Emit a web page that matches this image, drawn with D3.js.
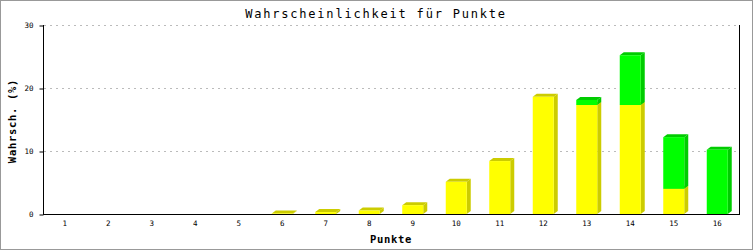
<!DOCTYPE html>
<html><head><meta charset="utf-8">
<script src="https://cdn.jsdelivr.net/npm/d3@7"></script>
<style>html,body{margin:0;padding:0;background:#fff;}svg{display:block;}</style>
</head><body>
<script>
const categories = ["1","2","3","4","5","6","7","8","9","10","11","12","13","14","15","16"];
const yellowValues = [0,0,0,0,0,0.08,0.3,0.55,1.4,5.1,8.4,18.6,17.3,17.3,4.0,0];
const greenValues  = [0,0,0,0,0,0,0,0,0,0,0,0,0.8,7.9,8.2,10.2];
const yTicks = [0,10,20,30];
const title = "Wahrscheinlichkeit für Punkte";
const xLabel = "Punkte";
const yLabel = "Wahrsch. (%)";

(function(){
const W = 753, H = 250;
const pL = 43, pR = 739, pT = 25, pB = 214;
const svg = d3.select("body").append("svg").attr("width", W).attr("height", H);
svg.append("rect").attr("x",0.5).attr("y",0.5).attr("width",W-1).attr("height",H-1)
  .attr("fill","#fff").attr("stroke","#999");

const x = d3.scaleBand().domain(categories).range([pL,pR]).padding(0);
const y = d3.scaleLinear().domain([0,30]).range([pB,pT]);

// grid
svg.append("g").selectAll("line").data(yTicks.filter(d=>d>0)).join("line")
  .attr("x1",pL+1).attr("x2",pR-2).attr("y1",d=>y(d)+0.5).attr("y2",d=>y(d)+0.5)
  .attr("stroke","#bbb").attr("stroke-dasharray","2,4");

// bars
const fw = 21, dx = 4, dy = 3;
const colors = [{front:"#ffff00", dark:"#cccc00"},{front:"#00ff00", dark:"#00cc00"}];
const gBars = svg.append("g");
categories.forEach((c,i)=>{
  const segs = [[0,yellowValues[i]],[yellowValues[i],yellowValues[i]+greenValues[i]]];
  const x0 = x(c) + x.bandwidth()/2 - fw/2;
  segs.forEach((s,k)=>{
    if (s[1]-s[0] <= 0) return;
    const yb = y(s[0]), yt = y(s[1]);
    const col = colors[k];
    gBars.append("polygon")
      .attr("points",[[x0+fw,yt],[x0+fw+dx,yt-dy],[x0+fw+dx,yb-dy],[x0+fw,yb]].map(p=>p.join(",")).join(" "))
      .attr("fill",col.dark);
    gBars.append("polygon")
      .attr("points",[[x0,yt],[x0+dx,yt-dy],[x0+fw+dx,yt-dy],[x0+fw,yt]].map(p=>p.join(",")).join(" "))
      .attr("fill",col.dark);
    gBars.append("rect").attr("x",x0).attr("y",yt).attr("width",fw).attr("height",yb-yt)
      .attr("fill",col.front);
  });
});

// axes lines
svg.append("line").attr("x1",pL+0.5).attr("x2",pL+0.5).attr("y1",pT).attr("y2",pB+1).attr("stroke","#000");
svg.append("line").attr("x1",pR+0.5).attr("x2",pR+0.5).attr("y1",pT).attr("y2",pB+1).attr("stroke","#000");
svg.append("line").attr("x1",pL).attr("x2",pR+1).attr("y1",pB+0.5).attr("y2",pB+0.5).attr("stroke","#000");

// y ticks
const yAxis = d3.axisLeft(y).tickValues(yTicks).tickSize(4).tickPadding(6).tickFormat(d3.format("d"));
const ga = svg.append("g").attr("transform",`translate(${pL+0.5},0.5)`).call(yAxis);
ga.select(".domain").remove();
ga.selectAll("line").attr("stroke","#000");
ga.selectAll("text").attr("font-family","DejaVu Sans Mono").attr("font-size","7.5px").attr("fill","#000");

// x ticks
const xAxis = d3.axisBottom(x).tickSize(0).tickPadding(6);
const gx = svg.append("g").attr("transform",`translate(0,${pB+0.5})`).call(xAxis);
gx.select(".domain").remove();
gx.selectAll("text").attr("font-family","DejaVu Sans Mono").attr("font-size","7.5px").attr("fill","#000");

// title
svg.append("text").attr("x",376).attr("y",18).attr("text-anchor","middle")
  .attr("font-family","DejaVu Sans Mono").attr("font-size","12px").attr("letter-spacing","1.8px")
  .attr("fill","#000").text(title);
svg.append("text").attr("x",(pL+pR)/2).attr("y",243).attr("text-anchor","middle")
  .attr("font-family","DejaVu Sans Mono").attr("font-weight","bold").attr("font-size","10.5px").attr("letter-spacing","0.7px")
  .attr("fill","#000").text(xLabel);
svg.append("text").attr("transform","translate(16,121) rotate(-90)").attr("text-anchor","middle")
  .attr("font-family","DejaVu Sans Mono").attr("font-weight","bold").attr("font-size","10.5px").attr("letter-spacing","0.7px")
  .attr("fill","#000").text(yLabel);
})();
</script>
</body></html>
